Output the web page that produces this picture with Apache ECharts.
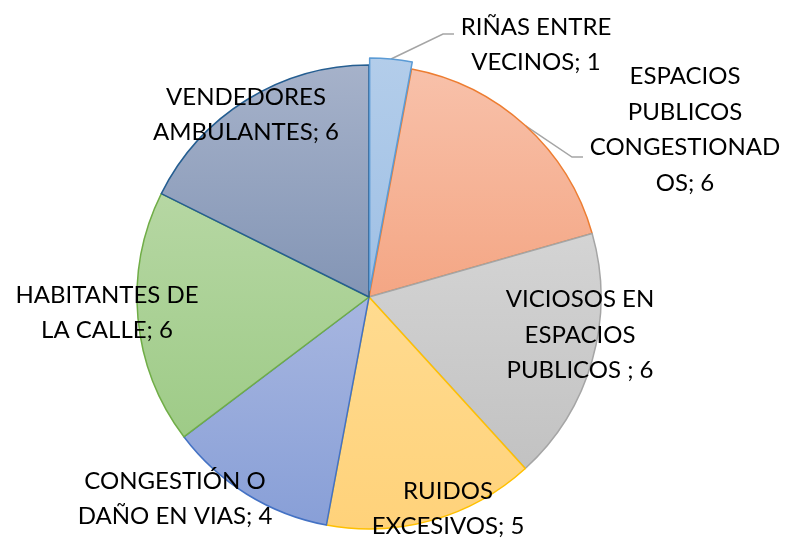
<!DOCTYPE html>
<html><head><meta charset="utf-8">
<script src="https://cdn.jsdelivr.net/npm/echarts@6/dist/echarts.min.js"></script>
<style>html,body{margin:0;padding:0;background:#fff}#c{width:785px;height:538px}</style>
</head><body><div id="c"></div>
<script>
const categories = ["RIÑAS ENTRE VECINOS", "ESPACIOS PUBLICOS CONGESTIONADOS", "VICIOSOS EN ESPACIOS PUBLICOS ", "RUIDOS EXCESIVOS", "CONGESTIÓN O DAÑO EN VIAS", "HABITANTES DE LA CALLE", "VENDEDORES AMBULANTES"];
const values = [1, 6, 6, 5, 4, 6, 6];
const labelTexts = ["RIÑAS ENTRE\nVECINOS; 1", "ESPACIOS\nPUBLICOS\nCONGESTIONAD\nOS; 6", "VICIOSOS EN\nESPACIOS\nPUBLICOS ; 6", "RUIDOS\nEXCESIVOS; 5", "CONGESTIÓN O\nDAÑO EN VIAS; 4", "HABITANTES DE\nLA CALLE; 6", "VENDEDORES\nAMBULANTES; 6"];
const fillTop = ["#b3cdea", "#f8c1aa", "#d4d4d4", "#ffdb90", "#a7b6e0", "#b6d7a3", "#a6b2ca"];
const fillBottom = ["#9fc0e5", "#f4a684", "#c2c2c2", "#ffd27a", "#889fd7", "#9ecb87", "#8395b5"];
const borders = ["#5b9bd5", "#ed7d31", "#a5a5a5", "#ffc000", "#4472c4", "#70ad47", "#255e91"];

const CX = 369, CY = 297, R = 232, OFFSET = 7;
const EXPLODED = 0; // index of the pulled-out slice
// label block centers (px)
const labelPos = [[536, 45], [685, 130], [580, 335], [448, 509], [175, 499], [107, 313], [246, 115]];
// leader-line bends/ends for the outside labels
const leaderEnds = {0: [[443, 34], [454, 34]], 1: [[572, 157], [583, 157]]};

const total = values.reduce((a, b) => a + b, 0);
function midAngle(i) {
  let before = 0;
  for (let k = 0; k < i; k++) before += values[k];
  return (90 - (before + values[i] / 2) / total * 360) * Math.PI / 180;
}
function edgePoint(i) {
  const a = midAngle(i);
  const r = R + (i === EXPLODED ? OFFSET : 0);
  return [CX + r * Math.cos(a), CY - r * Math.sin(a)];
}
const exA = midAngle(EXPLODED);
const exCenter = [CX + OFFSET * Math.cos(exA), CY - OFFSET * Math.sin(exA)];

function styleFor(i) {
  return {
    color: new echarts.graphic.LinearGradient(0, 0, 0, 1, [
      {offset: 0, color: fillTop[i]}, {offset: 1, color: fillBottom[i]}
    ]),
    borderColor: borders[i],
    borderWidth: 1.5
  };
}

const baseLabel = {
  fontFamily: 'Lato',
  fontSize: 24,
  lineHeight: 35.5,
  color: '#000',
  align: 'center'
};

function layoutFn(p) {
  const i = p.dataIndex;
  const pos = labelPos[i];
  if (!pos) return {};
  const res = {x: pos[0], y: pos[1], align: 'center', verticalAlign: 'middle'};
  if (leaderEnds[i]) {
    res.labelLinePoints = [edgePoint(i), leaderEnds[i][0], leaderEnds[i][1]];
  }
  return res;
}

const chart = echarts.init(document.getElementById('c'), null, {renderer: 'canvas'});

// main pie: every slice except the exploded one (kept as an invisible placeholder)
const mainData = categories.map((c, i) => {
  if (i === EXPLODED) {
    return {name: c, value: values[i], itemStyle: {color: 'rgba(0,0,0,0)', borderWidth: 0},
      label: {show: false}, labelLine: {show: false}};
  }
  return {
    name: c, value: values[i], itemStyle: styleFor(i),
    label: {position: leaderEnds[i] ? 'outside' : 'inside', formatter: labelTexts[i]},
    labelLine: {show: !!leaderEnds[i]}
  };
});

// exploded pie: the pulled-out slice plus an invisible rest
const restValue = total - values[EXPLODED];
const exData = [];
categories.forEach((c, i) => {
  if (i === EXPLODED) {
    exData.push({name: c, value: values[i], itemStyle: styleFor(i),
      label: {position: 'outside', formatter: labelTexts[i]}, labelLine: {show: true}});
  }
});
exData.push({name: '', value: restValue, itemStyle: {color: 'rgba(0,0,0,0)', borderWidth: 0},
  label: {show: false}, labelLine: {show: false}});

chart.setOption({
  animation: false,
  series: [{
    type: 'pie',
    center: [CX, CY],
    radius: R,
    startAngle: 90,
    clockwise: true,
    avoidLabelOverlap: false,
    silent: true,
    data: mainData,
    label: baseLabel,
    labelLine: {lineStyle: {color: '#a5a5a5', width: 1.5}},
    labelLayout: layoutFn
  }, {
    type: 'pie',
    center: exCenter,
    radius: R,
    startAngle: 90,
    clockwise: true,
    avoidLabelOverlap: false,
    silent: true,
    data: exData,
    label: baseLabel,
    labelLine: {lineStyle: {color: '#a5a5a5', width: 1.5}},
    labelLayout: function (p) { return layoutFn({dataIndex: p.dataIndex === 0 ? EXPLODED : -1}); }
  }]
});
</script></body></html>
